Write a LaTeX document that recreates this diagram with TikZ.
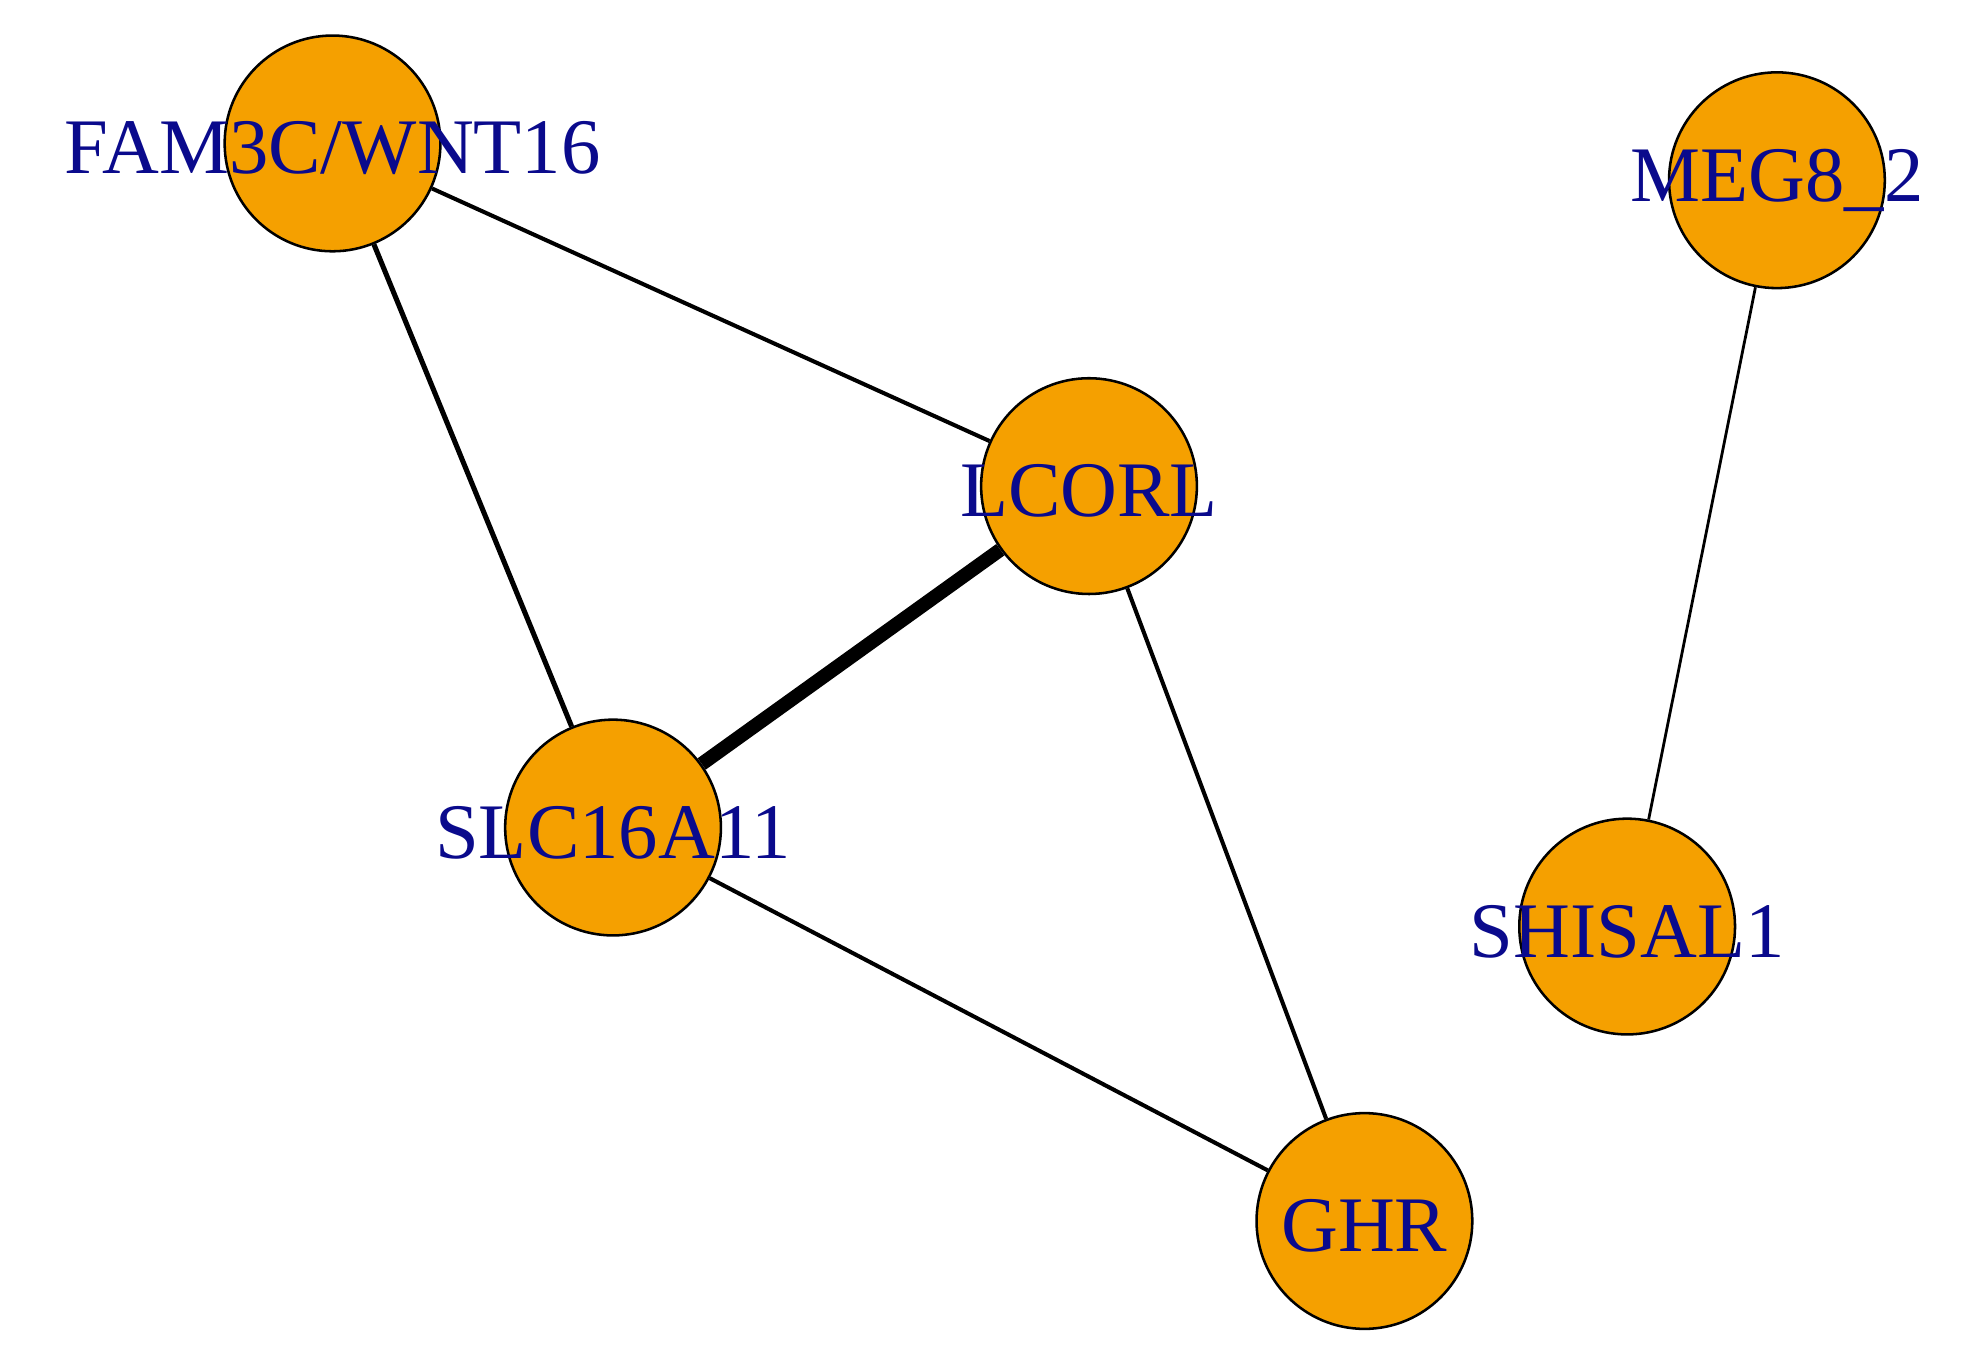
\documentclass[tikz,border=0pt]{standalone}
\usepackage{fontspec}
\setmainfont{Liberation Serif}
\definecolor{nodeor}{HTML}{F5A000}
\definecolor{lbl}{HTML}{0A0A8C}
\begin{document}
\begin{tikzpicture}[x=0.5pt,y=-0.5pt,
  gene/.style={circle,draw=black,line width=1pt,fill=nodeor,minimum size=85pt,inner sep=0pt},
  lab/.style={text=lbl,font=\fontsize{31}{31}\selectfont,inner sep=0pt},
  edge/.style={line width=1.6pt}]
\useasboundingbox (0,0) rectangle (1560,1075);
\node[gene] (fam) at (262,113) {};
\node[gene] (meg) at (1400,142) {};
\node[gene] (lcorl) at (858,383) {};
\node[gene] (slc) at (483,652) {};
\node[gene] (shi) at (1282,730) {};
\node[gene] (ghr) at (1075,962) {};
\begin{scope}[on background layer/.style={}]
\end{scope}
\draw[edge] (fam) -- (lcorl);
\draw[edge,line width=2pt] (fam) -- (slc);
\draw[edge,line width=5.5pt] (slc) -- (lcorl);
\draw[edge] (lcorl) -- (ghr);
\draw[edge] (slc) -- (ghr);
\draw[edge,line width=1.1pt] (meg) -- (shi);
\node[lab] (famL) at (262,117) {FAM3C/WNT16};
\node[lab] (megL) at (1400,142) {MEG8\_2};
\node[lab] (lcorlL) at (858,387) {LCORL};
\node[lab] (slcL) at (483,656) {SLC16A11};
\node[lab] (shiL) at (1282,734) {SHISAL1};
\node[lab] (ghrL) at (1075,966) {GHR};
\end{tikzpicture}
\end{document}
